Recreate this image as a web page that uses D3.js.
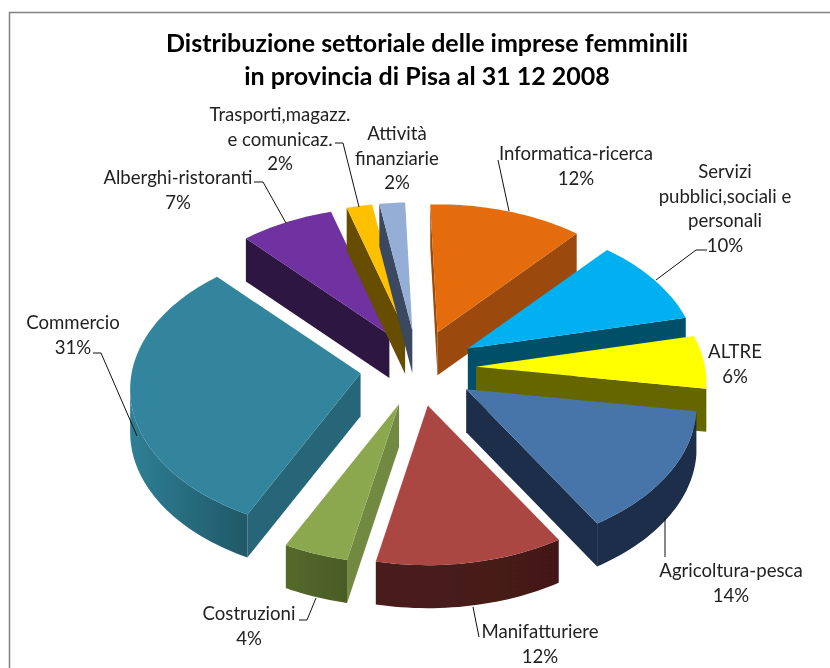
<!DOCTYPE html>
<html><head><meta charset="utf-8">
<script src="https://cdn.jsdelivr.net/npm/d3@7"></script>
<style>html,body{margin:0;padding:0;background:#fff}svg{display:block}</style>
</head><body><div id="chart"></div>
<script>
// ---- data ----
const categories = ["Informatica-ricerca","Servizi pubblici,sociali e personali","ALTRE","Agricoltura-pesca","Manifatturiere","Costruzioni","Commercio","Alberghi-ristoranti","Trasporti,magazz. e comunicaz.","Attività finanziarie"];
const shares = [12,10,6,13.9,11.9,4.1,30.8,7.3,2,2];
const titleLines = ["Distribuzione settoriale delle imprese femminili","in provincia di Pisa al 31 12 2008"];

// ---- styles ----
const topColors  = ["#E46C0A","#00B0F0","#FFFF00","#4674AA","#AA4643","#8BA850","#31859C","#7030A0","#FFC000","#95AED6"];
const wallColors = ["#9C4A07","#005069","#666600","#1A2D48","#461B1A","#71893F","#266678","#2D1342","#664D00","#3B4A60"];
const rimColors  = [["#9C4A07","#9C4A07"],["#005069","#005069"],["#666600","#666600"],["#1A2D48","#1A2D48"],["#431918","#4A1C1B"],["#4A5C26","#55692C"],["#205867","#2F7F95"],["#2D1342","#2D1342"],["#664D00","#664D00"],["#3B4A60","#3B4A60"]];
const paintOrder = [7,8,9,0,1,2,3,6,5,4];

// ---- label layout ----
const labelLines = [
 ["Informatica-ricerca","12%"],["Servizi","pubblici,sociali e","personali","10%"],["ALTRE","6%"],["Agricoltura-pesca","14%"],
 ["Manifatturiere","12%"],["Costruzioni","4%"],["Commercio","31%"],["Alberghi-ristoranti","7%"],["Trasporti,magazz.","e comunicaz.","2%"],["Attività","finanziarie","2%"]];
const labelAnchor = [[576,153],[725,171],[735,351],[731,570],[540,631],[249,613],[73,322],[178,177],[280,114],[397,133]];
const leaders = [
 [[498,160],[509,211]],
 [[707,250],[696,250],[656,280]],
 null,
 [[665,518],[665,557]],
 [[479,637],[473,607]],
 [[299,620],[307,620],[316,598]],
 [[93,353],[101,353],[137,436]],
 [[254,182],[263,182],[286,223]],
 [[335,143],[343,143],[359,207]],
 null];

// ---- projection constants ----
const W = 830, H = 668;
const centre = [418,368], explode = [58,38], depth = 43;
const Rx = 229, Ry = 142, persp = 0.111;
const rotation = -2 * Math.PI/180;

const svg = d3.select("#chart").append("svg").attr("width",W).attr("height",H);
const defs = svg.append("defs");
defs.append("filter").attr("id","soft").attr("x",0).attr("y",0).attr("width","100%").attr("height","100%")
  .append("feGaussianBlur").attr("stdDeviation",0.55);
const root = svg.append("g").attr("filter","url(#soft)");
root.append("rect").attr("width",W).attr("height",H).attr("fill","#fff");
const FONT = "Lato, 'Open Sans', sans-serif";

root.append("path").attr("d",`M9.5,${H} V12.5 H${W}`).attr("fill","none").attr("stroke","#808080").attr("stroke-width",1.5);

const arcs = d3.pie().sort(null).value(d=>d).startAngle(rotation).endAngle(rotation+2*Math.PI)(shares);

function rim(t){
  const X = Math.sin(t), Y = -Math.cos(t), k = 1/(1 - persp*Y);
  return [Rx*X*k, Ry*Y*k];
}
const line = d3.line();
const drop = p => [p[0], p[1]+depth];

function slice(i){
  const a = arcs[i], m = (a.startAngle+a.endAngle)/2;
  const apex = [centre[0]+explode[0]*Math.sin(m), centre[1]-explode[1]*Math.cos(m)];
  const n = Math.max(6, Math.ceil((a.endAngle-a.startAngle)*40));
  const pts = d3.range(n+1).map(j=>{
    const t = a.startAngle + (a.endAngle-a.startAngle)*j/n, r = rim(t);
    return [apex[0]+r[0], apex[1]+r[1]];
  });
  const g = root.append("g");
  const wall = (p,show) => { if(show) g.append("path").attr("d",line([apex,p,drop(p),drop(apex)])+"Z").attr("fill",wallColors[i]); };
  wall(pts[0],  pts[0][0] < apex[0]);
  wall(pts[n],  pts[n][0] > apex[0]);
  const vis = pts.filter((p,j)=> (j<n && pts[j+1][0]<p[0]) || (j>0 && p[0]<pts[j-1][0]));
  if(vis.length>1){
    const id = "rim"+i, ext = d3.extent(vis,p=>p[0]);
    const lg = defs.append("linearGradient").attr("id",id).attr("gradientUnits","userSpaceOnUse")
      .attr("x1",ext[1]).attr("x2",ext[0]).attr("y1",0).attr("y2",0);
    lg.append("stop").attr("offset",0).attr("stop-color",rimColors[i][0]);
    lg.append("stop").attr("offset",1).attr("stop-color",rimColors[i][1]);
    g.append("path").attr("d",line(vis.concat(vis.slice().reverse().map(drop)))+"Z").attr("fill",`url(#${id})`);
  }
  g.append("path").attr("d",line([apex].concat(pts))+"Z").attr("fill",topColors[i]);
}
paintOrder.forEach(slice);

leaders.forEach(l=>{ if(l) root.append("path").attr("d",line(l)).attr("fill","none").attr("stroke","#111").attr("stroke-width",1); });

labelLines.forEach((ls,i)=>{
  ls.forEach((s,j)=>{
    root.append("text").attr("x",labelAnchor[i][0]).attr("y",labelAnchor[i][1]+j*24.5)
      .attr("text-anchor","middle").attr("dominant-baseline","central")
      .attr("font-family",FONT).attr("font-size",18.6).attr("fill","#222").text(s);
  });
});
titleLines.forEach((s,j)=>{
  root.append("text").attr("x",427).attr("y",42+j*33).attr("text-anchor","middle").attr("dominant-baseline","central")
    .attr("font-family",FONT).attr("font-weight",700).attr("font-size",25).attr("fill","#000").text(s);
});
</script></body></html>
